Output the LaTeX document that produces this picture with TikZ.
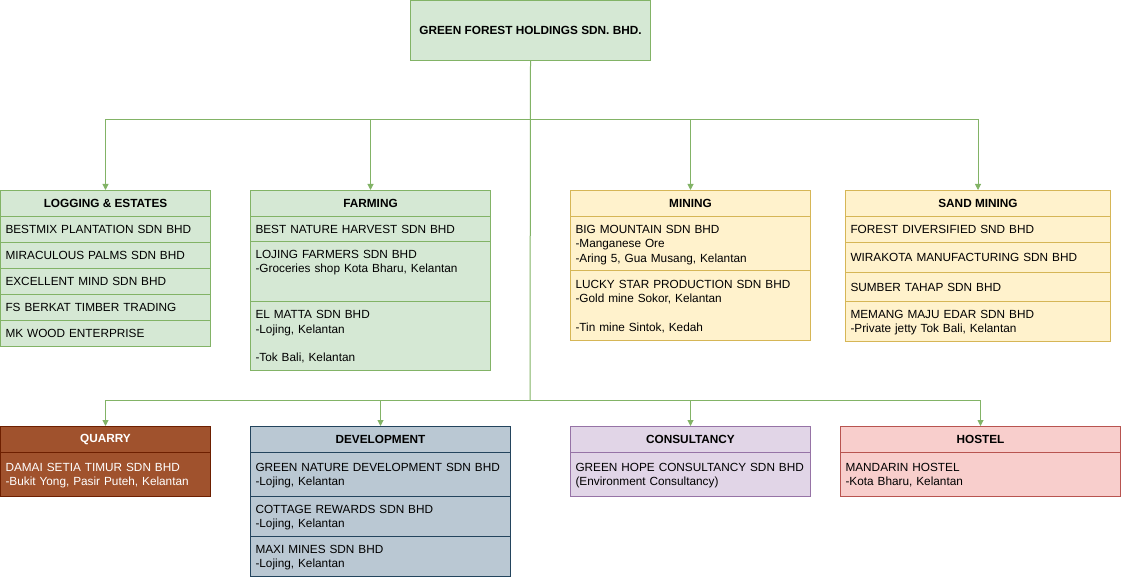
\documentclass[tikz,border=0pt]{standalone}
\usepackage{fontspec}
\setmainfont{Liberation Sans}
\usetikzlibrary{arrows.meta}
\definecolor{GrnFill}{HTML}{D5E8D4}
\definecolor{GrnLine}{HTML}{82B366}
\definecolor{YelFill}{HTML}{FFF2CC}
\definecolor{YelLine}{HTML}{D6B656}
\definecolor{BrnFill}{HTML}{A0522D}
\definecolor{BrnLine}{HTML}{6D1F00}
\definecolor{BluFill}{HTML}{BAC8D3}
\definecolor{BluLine}{HTML}{23445D}
\definecolor{PurFill}{HTML}{E1D5E7}
\definecolor{PurLine}{HTML}{9673A6}
\definecolor{RedFill}{HTML}{F8CECC}
\definecolor{RedLine}{HTML}{B85450}
\newcommand\lnstrut{\rule[-3pt]{0pt}{14.4pt}}

\begin{document}
\begin{tikzpicture}[x=1pt,y=-1pt,>={Triangle[length=6pt,width=6pt]},
    font=\fontsize{11.8}{14.4}\selectfont,
    box/.style={draw,anchor=north west,inner sep=0pt,line width=1pt},
    hdr/.style={box,font=\fontsize{11.8}{14.4}\selectfont\bfseries,minimum height=26},
    cell/.style={box,align=left,inner xsep=5pt,inner ysep=0pt,
      execute at begin node=\lnstrut,execute at end node=\lnstrut},
    green/.style={fill=GrnFill,draw=GrnLine},
    yellow/.style={fill=YelFill,draw=YelLine},
    brown/.style={fill=BrnFill,draw=BrnLine,text=white},
    blue/.style={fill=BluFill,draw=BluLine},
    purple/.style={fill=PurFill,draw=PurLine},
    red/.style={fill=RedFill,draw=RedLine},
    link/.style={draw=GrnLine,line width=1pt}]
  \useasboundingbox (0,0) rectangle (1121,580);

  \node[hdr,green,minimum width=240,minimum height=60] (top) at (410,0) {GREEN FOREST HOLDINGS SDN. BHD.};

  % upper row
  \node[hdr,green,minimum width=210] (log) at (0,190) {LOGGING \& ESTATES};
  \foreach \t [count=\i] in {BESTMIX PLANTATION SDN BHD,MIRACULOUS PALMS SDN BHD,
      EXCELLENT MIND SDN BHD,FS BERKAT TIMBER TRADING,MK WOOD ENTERPRISE} {
    \node[cell,green,text width=200,minimum height=26] (log\i) at (0,190+26*\i) {\t};
  }

  \node[hdr,green,minimum width=240] (farm) at (250,190) {FARMING};
  \node[cell,green,text width=230,minimum height=25] (farm1) at (250,216) {BEST NATURE HARVEST SDN BHD};
  \node[cell,green,text width=230,minimum height=60] (farm2) at (250,241) {LOJING FARMERS SDN BHD\\-Groceries shop Kota Bharu, Kelantan\\[6pt]~};
  \node[cell,green,text width=230,minimum height=69] (farm3) at (250,301) {EL MATTA SDN BHD\\-Lojing, Kelantan\\~\\-Tok Bali, Kelantan};

  \node[hdr,yellow,minimum width=240] (mine) at (570,190) {MINING};
  \node[cell,yellow,text width=230,minimum height=54] (mine1) at (570,216) {BIG MOUNTAIN SDN BHD\\-Manganese Ore\\-Aring 5, Gua Musang, Kelantan};
  \node[cell,yellow,text width=230,minimum height=70] (mine2) at (570,270) {LUCKY STAR PRODUCTION SDN BHD\\-Gold mine Sokor, Kelantan\\~\\-Tin mine Sintok, Kedah};

  \node[hdr,yellow,minimum width=265] (sand) at (845,190) {SAND MINING};
  \node[cell,yellow,text width=255,minimum height=26] (sand1) at (845,216) {FOREST DIVERSIFIED SND BHD};
  \node[cell,yellow,text width=255,minimum height=30] (sand2) at (845,242) {WIRAKOTA MANUFACTURING SDN BHD};
  \node[cell,yellow,text width=255,minimum height=29] (sand3) at (845,272) {SUMBER TAHAP SDN BHD};
  \node[cell,yellow,text width=255,minimum height=40] (sand4) at (845,301) {MEMANG MAJU EDAR SDN BHD\\-Private jetty Tok Bali, Kelantan};

  % lower row
  \node[hdr,brown,minimum width=210] (quarry) at (0,426) {QUARRY};
  \node[cell,brown,text width=200,minimum height=44] (quarry1) at (0,452) {DAMAI SETIA TIMUR SDN BHD\\-Bukit Yong, Pasir Puteh, Kelantan};

  \node[hdr,blue,minimum width=260] (dev) at (250,426) {DEVELOPMENT};
  \node[cell,blue,text width=250,minimum height=44] (dev1) at (250,452) {GREEN NATURE DEVELOPMENT SDN BHD\\-Lojing, Kelantan};
  \node[cell,blue,text width=250,minimum height=40] (dev2) at (250,496) {COTTAGE REWARDS SDN BHD\\-Lojing, Kelantan};
  \node[cell,blue,text width=250,minimum height=40] (dev3) at (250,536) {MAXI MINES SDN BHD\\-Lojing, Kelantan};

  \node[hdr,purple,minimum width=240] (cons) at (570,426) {CONSULTANCY};
  \node[cell,purple,text width=230,minimum height=44] (cons1) at (570,452) {GREEN HOPE CONSULTANCY SDN BHD\\(Environment Consultancy)};

  \node[hdr,red,minimum width=280] (hostel) at (840,426) {HOSTEL};
  \node[cell,red,text width=270,minimum height=44] (hostel1) at (840,452) {MANDARIN HOSTEL\\-Kota Bharu, Kelantan};

  % connectors
  \coordinate (upbus) at (530,120);
  \coordinate (lowbus) at (530,400);
  \draw[link] (top.south) -- (lowbus);
  \foreach \g in {log,farm,mine,sand}
    \draw[link,->] (upbus) -| (\g.north);
  \foreach \g in {quarry,dev,cons,hostel}
    \draw[link,->] (lowbus) -| (\g.north);
\end{tikzpicture}
\end{document}
